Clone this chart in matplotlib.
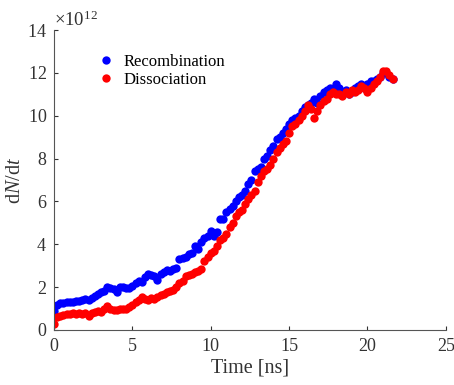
import numpy as np
import matplotlib
matplotlib.use("Agg")
import matplotlib.pyplot as plt
from matplotlib.ticker import ScalarFormatter

plt.rcParams['font.family'] = ['Liberation Serif', 'DejaVu Serif']
plt.rcParams['mathtext.fontset'] = 'custom'
plt.rcParams['mathtext.rm'] = 'Liberation Serif'
plt.rcParams['mathtext.it'] = 'Liberation Serif:italic'

# time grid (ns), sampled every 0.2 ns
time_ns = np.round(np.arange(0, 21.7, 0.2), 1)

# dN/dt in units of 1e12
recombination = [
    0.9, 1.15, 1.25, 1.25, 1.3, 1.3, 1.32, 1.35, 1.35, 1.4,
    1.45, 1.4, 1.5, 1.6, 1.7, 1.75, 1.8, 2.0, 1.95, 1.9,
    1.75, 2.0, 2.0, 1.95, 1.95, 2.05, 2.2, 2.3, 2.25, 2.45,
    2.6, 2.55, 2.5, 2.35, 2.6, 2.7, 2.8, 2.75, 2.85, 2.9,
    3.3, 3.35, 3.4, 3.55, 3.6, 3.9, 3.8, 4.1, 4.3, 4.4,
    4.6, 4.4, 4.55, 5.2, 5.2, 5.5, 5.65, 5.8, 6.0, 6.2,
    6.3, 6.5, 6.8, 7.0, 7.4, 7.5, 7.6, 8.0, 8.1, 8.4,
    8.6, 8.9, 9.0, 9.2, 9.4, 9.6, 9.8, 9.9, 10.0, 10.2,
    10.4, 10.5, 10.6, 10.8, 10.6, 10.9, 11.1, 11.2, 11.3, 11.2,
    11.5, 11.3, 11.1, 11.2, 11.0, 11.1, 11.3, 11.4, 11.5, 11.3,
    11.5, 11.6, 11.6, 11.7, 11.8, 12.0, 12.0, 11.8, 11.7,
]
dissociation = [
    0.3, 0.6, 0.65, 0.7, 0.75, 0.75, 0.8, 0.75, 0.8, 0.75,
    0.8, 0.65, 0.8, 0.85, 0.9, 0.85, 1.0, 1.1, 1.0, 0.95,
    0.95, 1.0, 1.0, 1.0, 1.05, 1.15, 1.3, 1.4, 1.55, 1.45,
    1.4, 1.5, 1.45, 1.55, 1.65, 1.7, 1.75, 1.8, 1.85, 2.0,
    2.2, 2.3, 2.5, 2.55, 2.6, 2.7, 2.75, 2.85, 3.2, 3.4,
    3.6, 3.7, 3.9, 4.2, 4.3, 4.5, 4.8, 5.0, 5.3, 5.5,
    5.6, 5.9, 6.1, 6.3, 6.5, 6.9, 7.2, 7.4, 7.5, 7.7,
    8.0, 8.3, 8.5, 8.7, 8.8, 9.2, 9.5, 9.6, 9.8, 10.0,
    10.2, 10.5, 10.3, 9.9, 10.2, 10.5, 10.7, 10.8, 11.0, 11.1,
    11.0, 11.0, 10.9, 11.1, 11.0, 11.2, 11.1, 11.2, 11.4, 11.3,
    11.1, 11.3, 11.5, 11.6, 11.8, 12.1, 12.1, 11.9, 11.7,
]
scale = 1e12
labels = ['Recombination', 'Dissociation']
colors = ['#0000ff', '#ff0000']

fig = plt.figure(figsize=(4.54, 3.85), dpi=100)
ax = fig.add_axes([0.119, 0.143, 0.863, 0.779])

for vals, lab, c in zip([recombination, dissociation], labels, colors):
    ax.plot(time_ns, np.array(vals) * scale, 'o', color=c, markersize=6,
            markeredgewidth=0, label=lab)

ax.set_xlim(0, 25)
ax.set_ylim(0, 14e12)
ax.set_xticks([0, 5, 10, 15, 20, 25])
ax.set_yticks(np.arange(0, 15e12, 2e12))
fmt = ScalarFormatter(useMathText=True)
fmt.set_powerlimits((12, 12))
ax.yaxis.set_major_formatter(fmt)
ax.yaxis.get_offset_text().set_fontsize(13.5)
ax.yaxis.get_offset_text().set_color('#333333')

for s in ['top', 'right']:
    ax.spines[s].set_visible(False)
for s in ['left', 'bottom']:
    ax.spines[s].set_color('#555555')
ax.tick_params(direction='in', labelsize=13, colors='#333333', length=3)
ax.tick_params(axis='x', pad=6)
ax.tick_params(axis='y', pad=5)

ax.set_xlabel('Time [ns]', fontsize=14.5, color='#333333', labelpad=2)
ax.set_ylabel(r'$\mathrm{d}N/\mathrm{d}t$', fontsize=14.5, color='#333333', labelpad=2)

ax.legend(loc='upper left', bbox_to_anchor=(0.07, 0.97), frameon=False,
          fontsize=12, handletextpad=0.4, labelspacing=0.1, markerscale=1.0,
          handlelength=1.2)

fig.savefig('out.png', dpi=100)
